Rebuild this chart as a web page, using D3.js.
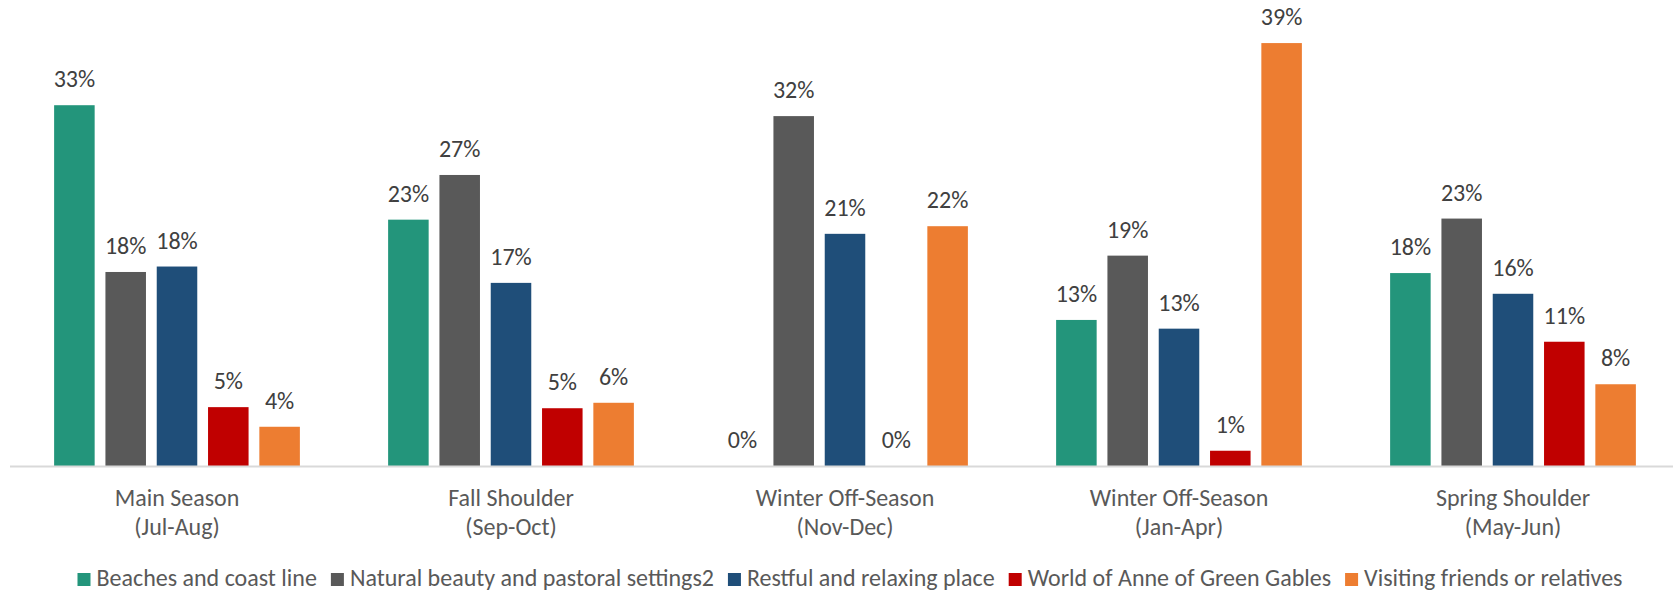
<!DOCTYPE html>
<html>
<head>
<meta charset="utf-8">
<script src="https://cdn.jsdelivr.net/npm/d3@7"></script>
<style>
    body { margin: 0; background: #fff; }
    svg text { font-family: Carlito, Calibri, Lato, sans-serif; }
</style>
</head>
<body>
<div id="chart"></div>
<script>
var seasons = ["Main Season|(Jul-Aug)", "Fall Shoulder|(Sep-Oct)", "Winter Off-Season|(Nov-Dec)",
    "Winter Off-Season|(Jan-Apr)", "Spring Shoulder|(May-Jun)"];
var seriesNames = ["Beaches and coast line", "Natural beauty and pastoral settings2",
    "Restful and relaxing place", "World of Anne of Green Gables", "Visiting friends or relatives"];
var beaches = [0.331, 0.226, 0, 0.134, 0.177];
var natural = [0.178, 0.267, 0.321, 0.193, 0.227];
var restful = [0.183, 0.168, 0.213, 0.126, 0.158];
var anne = [0.054, 0.053, 0, 0.014, 0.114];
var friends = [0.036, 0.058, 0.220, 0.388, 0.075];
var colors = ["#23957B", "#595959", "#1F4E79", "#C00000", "#ED7D31"];

var values = [beaches, natural, restful, anne, friends];
var width = 1673, height = 592;
var fontSize = 24;

var svg = d3.select("#chart").append("svg")
    .attr("width", width)
    .attr("height", height);

var x0 = d3.scaleBand().domain(seasons).range([10, 1680]);
var x1 = d3.scaleBand().domain(seriesNames)
    .range([0, x0.bandwidth()])
    .paddingInner(0.21)
    .paddingOuter(0.86);
var y = d3.scaleLinear().domain([0, 0.4]).range([466, 30]);

// flatten into one row per bar
var bars = [];
seasons.forEach(function (s, i) {
    seriesNames.forEach(function (n, j) {
        bars.push({ season: s, series: n, value: values[j][i], color: colors[j] });
    });
});

svg.selectAll("rect.bar")
    .data(bars)
    .enter().append("rect")
    .attr("class", "bar")
    .attr("x", function (d) { return x0(d.season) + x1(d.series); })
    .attr("y", function (d) { return y(d.value); })
    .attr("width", x1.bandwidth())
    .attr("height", function (d) { return y(0) - y(d.value); })
    .attr("fill", function (d) { return d.color; });

svg.selectAll("text.label")
    .data(bars)
    .enter().append("text")
    .attr("class", "label")
    .attr("x", function (d) { return x0(d.season) + x1(d.series) + x1.bandwidth() / 2; })
    .attr("y", function (d) { return y(d.value) - 18; })
    .attr("text-anchor", "middle")
    .attr("font-size", fontSize)
    .attr("fill", "#404040")
    .text(function (d) { return Math.round(d.value * 100) + "%"; });

// category axis
var xAxis = svg.append("g")
    .attr("transform", "translate(0," + y(0) + ")")
    .call(d3.axisBottom(x0).tickSize(0).tickFormat(""));
xAxis.select(".domain").attr("stroke", "#D9D9D9").attr("stroke-width", 2)
    .attr("d", "M10,0.5H" + width);

xAxis.selectAll(".tick").each(function (d) {
    var parts = d.split("|");
    var t = d3.select(this).append("text")
        .attr("text-anchor", "middle")
        .attr("font-size", fontSize)
        .attr("fill", "#595959");
    t.append("tspan").attr("x", 0).attr("y", 40).text(parts[0]);
    t.append("tspan").attr("x", 0).attr("y", 69).text(parts[1]);
});

// legend
var legend = svg.append("g");
var lx = 0;
seriesNames.forEach(function (n, j) {
    var item = legend.append("g").attr("transform", "translate(" + lx + ",0)");
    item.append("rect").attr("x", 0).attr("y", 573).attr("width", 13).attr("height", 13)
        .attr("fill", colors[j]);
    var t = item.append("text").attr("x", 19).attr("y", 586)
        .attr("font-size", fontSize)
        .attr("fill", "#595959")
        .text(n);
    lx += 19 + t.node().getComputedTextLength() + 14;
});
lx -= 14;
legend.attr("transform", "translate(" + (850 - lx / 2) + ",0)");
</script>
</body>
</html>
